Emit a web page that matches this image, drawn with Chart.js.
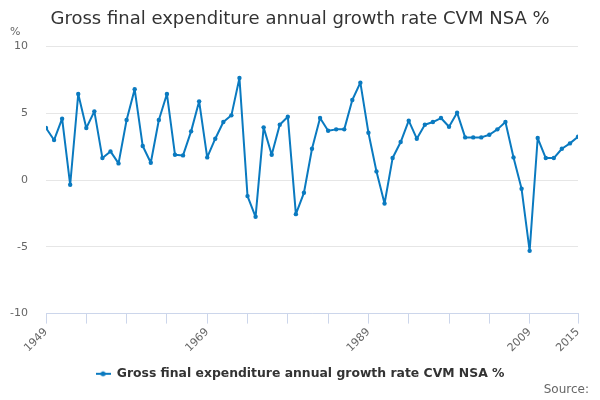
<!DOCTYPE html>
<html>
<head>
<meta charset="utf-8">
<script src="https://cdn.jsdelivr.net/npm/chart.js@4/dist/chart.umd.min.js"></script>
<style>
  html, body { margin: 0; padding: 0; background: #fff; }
  #wrap { width: 600px; height: 400px; position: relative; }
</style>
</head>
<body>
<div id="wrap"><canvas id="chart"></canvas></div>
<script>
/* datos */
const years = [];
for (let y = 1949; y <= 2015; y++) years.push(y);

const growth = [
  3.9, 3.0, 4.6, -0.35, 6.45, 3.9, 5.15, 1.65, 2.15, 1.25,
  4.5, 6.8, 2.55, 1.3, 4.5, 6.45, 1.9, 1.85, 3.65, 5.9,
  1.7, 3.1, 4.35, 4.85, 7.65, -1.2, -2.75, 3.95, 1.9, 4.15,
  4.75, -2.55, -0.95, 2.35, 4.65, 3.7, 3.8, 3.8, 6.0, 7.3,
  3.55, 0.65, -1.75, 1.65, 2.85, 4.45, 3.1, 4.15, 4.35, 4.65,
  4.0, 5.05, 3.2, 3.2, 3.2, 3.4, 3.8, 4.35, 1.7, -0.65,
  -5.3, 3.15, 1.65, 1.65, 2.35, 2.75, 3.25
];

const tickYears  = [1949, 1954, 1959, 1964, 1969, 1974, 1979, 1984, 1989, 1994, 1999, 2004, 2009, 2015];
const labelYears = [1949, 1969, 1989, 2009, 2015];
const yTicks     = [-10, -5, 0, 5, 10];

const seriesName = 'Gross final expenditure annual growth rate CVM NSA %';
const blue = '#0a7ac0';
const font = "'DejaVu Sans', sans-serif";

/* icono de leyenda: línea con punto */
const legendIcon = document.createElement('canvas');
legendIcon.width = 15; legendIcon.height = 8;
(function () {
  const c = legendIcon.getContext('2d');
  c.strokeStyle = blue; c.lineWidth = 2;
  c.beginPath(); c.moveTo(0, 4); c.lineTo(15, 4); c.stroke();
  c.fillStyle = blue;
  c.beginPath(); c.arc(7.5, 4, 2.5, 0, Math.PI * 2); c.fill();
})();

/* textos extra: "%" arriba y "Source:" abajo */
const extras = {
  id: 'extras',
  afterDraw(chart) {
    const ctx = chart.ctx;
    ctx.save();
    ctx.fillStyle = '#666';
    ctx.font = "11px " + font;
    ctx.textBaseline = 'middle';
    ctx.textAlign = 'left';
    ctx.fillText('%', 10, 32);
    ctx.font = "12px " + font;
    ctx.textAlign = 'right';
    ctx.fillText('Source:', 589, 390);
    ctx.restore();
  }
};

Chart.defaults.font.family = font;

new Chart(document.getElementById('chart'), {
  type: 'line',
  data: {
    datasets: [{
      label: seriesName,
      data: years.map((y, i) => ({ x: y, y: growth[i] })),
      borderColor: blue,
      backgroundColor: blue,
      borderWidth: 2,
      borderJoinStyle: 'round',
      borderCapStyle: 'round',
      pointRadius: 2.2,
      pointBorderWidth: 0,
      pointHoverRadius: 3,
      pointStyle: 'circle',
      tension: 0,
    }],
  },
  options: {
    responsive: true,
    maintainAspectRatio: false,
    animation: false,
    layout: { padding: { left: 22, right: 22, top: 9, bottom: 10 } },
    plugins: {
      title: {
        display: true,
        text: 'Gross final expenditure annual growth rate CVM NSA %',
        color: '#333',
        font: { size: 18, weight: 'normal', family: font },
        padding: { top: 0, bottom: 16 },
      },
      legend: {
        position: 'bottom',
        labels: {
          usePointStyle: true,
          pointStyle: legendIcon,
          pointStyleWidth: 15,
          boxHeight: 8,
          color: '#333',
          font: { size: 12.4, weight: 'bold', family: font },
          padding: 8,
        },
      },
      tooltip: { enabled: false },
    },
    scales: {
      x: {
        type: 'linear',
        min: 1949,
        max: 2015,
        afterBuildTicks: (s) => { s.ticks = tickYears.map(v => ({ value: v })); },
        afterFit: (s) => { s.height = 46; },
        grid: { drawOnChartArea: false, drawTicks: true, tickLength: 10, color: '#ccd6eb' },
        border: { display: true, color: '#ccd6eb' },
        ticks: {
          autoSkip: false,
          minRotation: 45,
          maxRotation: 45,
          color: '#666',
          font: { size: 11 },
          padding: 2,
          callback: (v) => labelYears.includes(v) ? String(v) : '',
        },
      },
      y: {
        min: -10,
        max: 10,
        afterBuildTicks: (s) => { s.ticks = yTicks.map(v => ({ value: v })); },
        afterFit: (s) => { s.width = 24; },
        grid: { color: '#e6e6e6', drawTicks: false },
        border: { display: false },
        // mirror + crossAlign 'far' para que las etiquetas no se recorten (alineadas a la derecha en x≈28)
        ticks: {
          color: '#666', font: { size: 11 },
          mirror: true, crossAlign: 'far',
          padding: -36,
        },
      },
    },
  },
  plugins: [extras],
});
</script>
</body>
</html>
